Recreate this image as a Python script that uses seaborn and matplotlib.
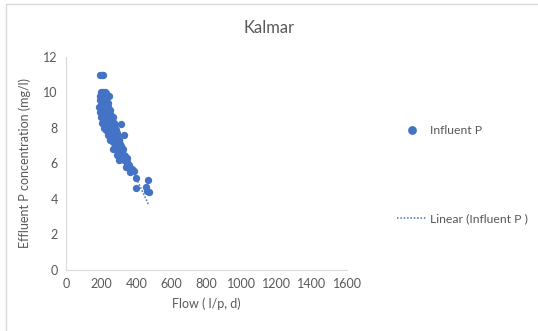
import numpy as np
import pandas as pd
import matplotlib
matplotlib.use('Agg')
import matplotlib.pyplot as plt
import seaborn as sns
from matplotlib.lines import Line2D

# flow (l/p, d) and effluent P (mg/l)
flow = [195, 205, 212,
        200, 210, 220, 230, 195, 215, 245,
        195, 205, 225, 240, 190, 200, 215, 230, 250,
        195, 210, 225, 240, 255, 265,
        200, 215, 230, 245, 260, 275,
        205, 220, 235, 250, 265, 280,
        215, 230, 245, 260, 275, 290, 315,
        240, 255, 270, 285, 300, 330,
        250, 265, 280, 295, 310,
        265, 280, 295, 310, 325,
        290, 305, 320, 335, 350,
        300, 330, 345,
        340, 360, 375, 365, 385,
        400, 398, 465, 455, 470, 460,
        225, 238, 245, 250, 258, 262, 272, 283, 293, 302, 312, 315, 320, 332,
        335, 345, 355, 350]
conc = [11.0, 11.0, 11.0,
        10.0, 10.0, 10.0, 9.95, 9.8, 9.7, 9.8,
        9.6, 9.5, 9.5, 9.4, 9.2, 9.3, 9.2, 9.1, 9.0,
        8.9, 8.8, 8.9, 8.8, 8.7, 8.6,
        8.6, 8.5, 8.4, 8.5, 8.4, 8.3,
        8.3, 8.2, 8.1, 8.2, 8.0, 8.0,
        8.0, 7.9, 7.8, 7.9, 7.7, 7.7, 8.2,
        7.6, 7.5, 7.5, 7.4, 7.3, 7.6,
        7.3, 7.2, 7.1, 7.0, 7.1,
        6.8, 6.9, 6.7, 6.6, 6.8,
        6.5, 6.4, 6.3, 6.4, 6.3,
        6.2, 6.2, 6.1,
        5.8, 5.9, 5.7, 5.5, 5.6,
        5.2, 4.6, 5.05, 4.7, 4.4, 4.45,
        9.6, 9.2, 9.0, 8.8, 8.6, 8.5, 8.2, 7.9, 7.6, 7.3, 7.0, 6.9, 6.7, 6.5,
        6.3, 6.0, 5.8, 6.0]

df = pd.DataFrame({'Flow': flow, 'P': conc})

blue = '#4472C4'
grey = '#595959'

sns.set_style('white')
plt.rcParams['font.family'] = ['Lato', 'DejaVu Sans']

fig = plt.figure(figsize=(5.38, 3.31), dpi=100)
ax = fig.add_axes([0.1227, 0.1843, 0.5223, 0.6435])

sns.regplot(data=df, x='Flow', y='P', ax=ax, ci=None, truncate=True,
            scatter_kws=dict(s=28, color=blue, edgecolor=blue, linewidths=0, alpha=1, zorder=3),
            line_kws=dict(color=blue, lw=1.1, ls=(0, (1, 1.2)), zorder=2))

ax.set_xlim(0, 1600)
ax.set_ylim(0, 12)
ax.set_xticks(range(0, 1601, 200))
ax.set_yticks(range(0, 13, 2))
for s in ['top', 'right']:
    ax.spines[s].set_visible(False)
for s in ['left', 'bottom']:
    ax.spines[s].set_color('#D9D9D9')
    ax.spines[s].set_linewidth(0.8)
ax.tick_params(length=0, labelsize=9, colors=grey, pad=6)
ax.set_xlabel('Flow ( l/p, d)', fontsize=9, color=grey, labelpad=5)
ax.set_ylabel('Effluent P concentration (mg/l)', fontsize=9, color=grey, labelpad=9)
fig.suptitle('Kalmar', x=0.5, y=0.94, fontsize=12, color=grey)

handles = [Line2D([], [], marker='o', ls='none', color=blue, markersize=5.3),
           Line2D([], [], color=blue, lw=1.1, ls=(0, (1, 1.2)))]
fig.legend(handles, ['Influent P', 'Linear (Influent P )'], loc='upper left',
           bbox_to_anchor=(0.718, 0.655), frameon=False, fontsize=8.8,
           labelcolor=grey, labelspacing=6.3, handlelength=2.4, handletextpad=0.25)

# chart border (Excel style)
fig.add_artist(Line2D([0.011, 1], [0.988, 0.988], color='#D9D9D9', lw=1, transform=fig.transFigure))
fig.add_artist(Line2D([0.011, 0.011], [0, 0.988], color='#D9D9D9', lw=1, transform=fig.transFigure))

fig.savefig('out.png', dpi=100)
